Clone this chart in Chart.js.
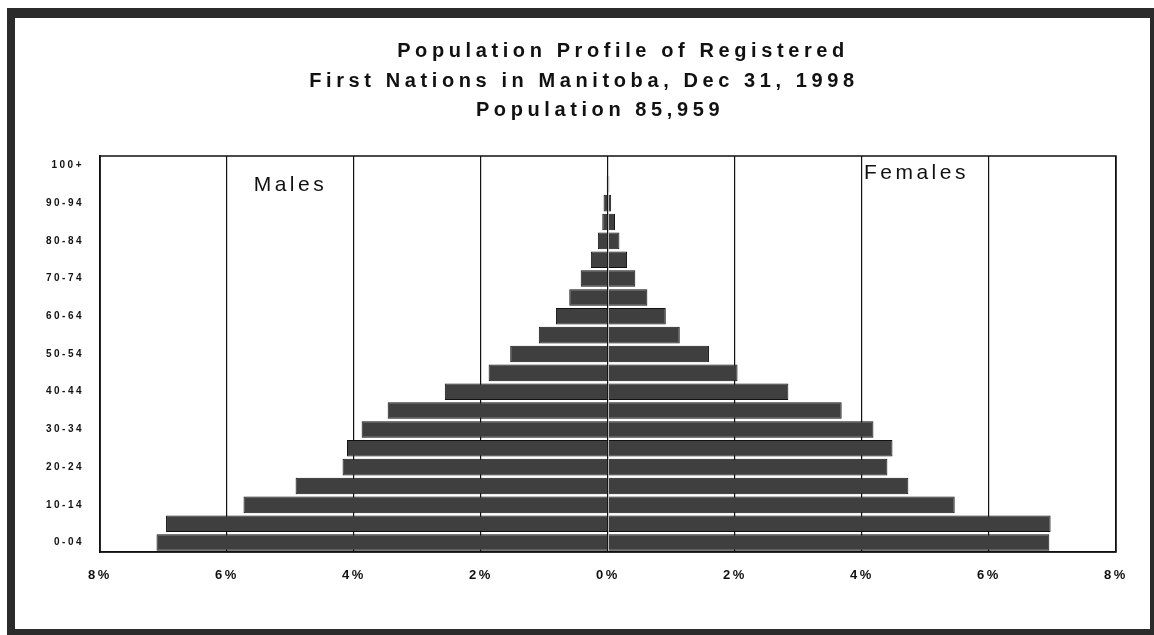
<!DOCTYPE html>
<html>
<head>
<meta charset="utf-8">
<script src="https://cdn.jsdelivr.net/npm/chart.js@4"></script>
<style>
  html, body { margin: 0; padding: 0; background: #fff; }
  #wrap { position: absolute; left: 0; top: 0; width: 1154px; height: 635px; }
  #frame {
    position: absolute; left: 7px; top: 8px; width: 1147px; height: 627px;
    box-sizing: border-box; pointer-events: none;
    border-style: solid; border-color: #2b2b2b;
    border-width: 10px 4px 6px 8px;
  }
</style>
</head>
<body>
<div id="wrap"><canvas id="chart"></canvas></div>
<div id="frame"></div>
<script>
// age groups, bottom to top
const ageGroups = ['0-04', '05-09', '10-14', '15-19', '20-24', '25-29', '30-34', '35-39',
  '40-44', '45-49', '50-54', '55-59', '60-64', '65-69', '70-74', '75-79', '80-84',
  '85-89', '90-94', '95-99', '100+']

// percent of total population
const males = [7.11, 6.96, 5.74, 4.92, 4.18, 4.11, 3.88, 3.47, 2.57, 1.88, 1.54, 1.09,
  0.82, 0.61, 0.43, 0.27, 0.16, 0.09, 0.07, 0.02, 0.01]
const females = [6.95, 6.97, 5.46, 4.73, 4.40, 4.48, 4.18, 3.68, 2.84, 2.04, 1.59, 1.13,
  0.91, 0.62, 0.43, 0.30, 0.18, 0.11, 0.05, 0.02, 0.01]

const xTicks = [-8, -6, -4, -2, 0, 2, 4, 6, 8]

const titleLines = [
  'Population Profile of Registered',
  'First Nations in Manitoba, Dec 31, 1998',
  'Population 85,959',
]
const sideLabels = ['Males', 'Females']

const ink = '#111111'
const barFill = '#3f3f3f'

// letter spacing for the axis text (old typewriter-ish look)
const spacingPlugin = {
  id: 'spacing',
  beforeUpdate(chart) { chart.ctx.letterSpacing = '2.5px' },
  beforeDraw(chart) { chart.ctx.letterSpacing = '2.5px' },
}

// title lines, side labels and the box round the plot
const decorPlugin = {
  id: 'decor',
  afterDraw(chart) {
    const ctx = chart.ctx
    const area = chart.chartArea
    const x = chart.scales.x
    ctx.save()
    ctx.strokeStyle = ink
    ctx.lineWidth = 1.5
    ctx.strokeRect(area.left, area.top, area.right - area.left, area.bottom - area.top)

    ctx.fillStyle = ink
    ctx.textBaseline = 'middle'
    ctx.textAlign = 'center'
    ctx.letterSpacing = '4.6px'
    ctx.font = 'bold 20px "Liberation Sans", Arial, sans-serif'
    const centers = [623, 584, 600]
    const rows = [51, 81, 110]
    titleLines.forEach((t, i) => ctx.fillText(t, centers[i], rows[i]))

    ctx.textAlign = 'left'
    ctx.letterSpacing = '3.5px'
    ctx.font = '21px "Liberation Sans", Arial, sans-serif'
    ctx.fillText(sideLabels[0], x.getPixelForValue(-5.58), area.top + 29)
    ctx.fillText(sideLabels[1], x.getPixelForValue(4.03), area.top + 17)
    ctx.restore()
  },
}

const config = {
  type: 'bar',
  data: {
    labels: ageGroups,
    datasets: [
      {
        label: sideLabels[0],
        data: males.map((v) => -v),
        backgroundColor: barFill,
        borderColor: ink,
        borderWidth: 1,
        barPercentage: 0.88,
        categoryPercentage: 1,
      },
      {
        label: sideLabels[1],
        data: females,
        backgroundColor: barFill,
        borderColor: ink,
        borderWidth: 1,
        barPercentage: 0.88,
        categoryPercentage: 1,
      },
    ],
  },
  options: {
    indexAxis: 'y',
    responsive: true,
    maintainAspectRatio: false,
    animation: false,
    layout: { padding: { left: 0, right: 38, top: 156, bottom: 0 } },
    scales: {
      x: {
        stacked: true,
        min: -8,
        max: 8,
        afterFit: (scale) => { scale.height = 83 },
        afterBuildTicks: (scale) => { scale.ticks = xTicks.map((v) => ({ value: v })) },
        ticks: {
          padding: 16,
          color: ink,
          font: { family: '"Liberation Sans", Arial, sans-serif', size: 13, weight: 'bold' },
          callback: (v) => Math.abs(v) + '%',
        },
        grid: { color: ink, lineWidth: 1.2, drawTicks: false },
        border: { display: true, color: ink, width: 1.5 },
      },
      y: {
        stacked: true,
        reverse: true,
        afterFit: (scale) => { scale.width = 100 },
        ticks: {
          autoSkip: false,
          padding: 8,
          color: ink,
          font: { family: '"Liberation Sans", Arial, sans-serif', size: 10, weight: 'bold' },
          callback: (v, i) => (i % 2 === 0 ? ageGroups[i] : ''),
        },
        grid: { display: false },
        border: { display: true, color: ink, width: 1.5 },
      },
    },
    plugins: {
      legend: { display: false },
      tooltip: { enabled: false },
      title: { display: false },
    },
  },
  plugins: [spacingPlugin, decorPlugin],
}

new Chart(document.getElementById('chart').getContext('2d'), config)
</script>
</body>
</html>
